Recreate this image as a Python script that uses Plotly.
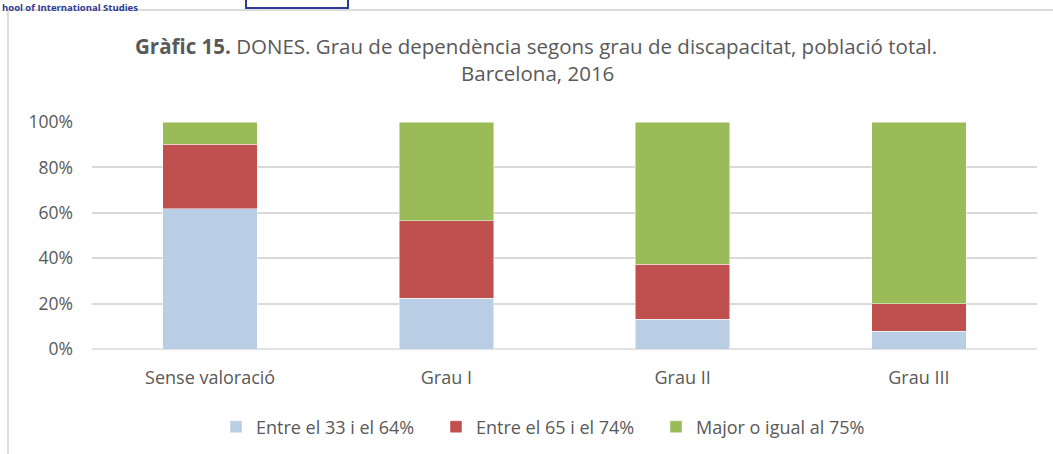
import plotly.graph_objects as go

categories = ["Sense valoració", "Grau I", "Grau II", "Grau III"]
series_names = ["Entre el 33 i el 64%", "Entre el 65 i el 74%", "Major o igual al 75%"]
s33_64 = [61.7, 22.3, 13.2, 7.8]
s65_74 = [28.5, 34.2, 24.2, 12.2]
s75 = [9.8, 43.5, 62.6, 80.0]
colors = ["#B9CDE5", "#C0504D", "#9BBB59"]
y_ticks = [0, 20, 40, 60, 80, 100]
y_tick_labels = [f"{v}%" for v in y_ticks]

W, H = 1053, 454
L, R, T, B = 92, 16, 122, 105
pw, ph = W - L - R, H - T - B

def px(x):
    return (x - L) / pw

def py(y):
    return (H - B - y) / ph

FONT = "Open Sans"
TXT = "#595959"

fig = go.Figure()
for name, vals, col in zip(series_names, [s33_64, s65_74, s75], colors):
    fig.add_trace(go.Bar(
        x=categories, y=vals, name=name,
        marker=dict(color=col, line=dict(color="rgba(255,255,255,0.6)", width=0.8)),
    ))

fig.update_layout(
    width=W, height=H,
    margin=dict(l=L, r=R, t=T, b=B, autoexpand=False),
    barmode="stack", bargap=0.6,
    paper_bgcolor="white", plot_bgcolor="white",
    font=dict(family=FONT, color=TXT, size=18),
    showlegend=True,
    legend=dict(orientation="h", x=px(546), xanchor="center", y=py(427), yanchor="middle",
                font=dict(size=18, color=TXT), traceorder="normal",
                itemwidth=30, entrywidth=175, entrywidthmode="pixels"),
    xaxis=dict(showgrid=False, showline=False, ticks="", tickfont=dict(size=18, color=TXT),
               ticklabelstandoff=16),
    yaxis=dict(range=[0, 100], tickmode="array", tickvals=y_ticks, ticktext=y_tick_labels,
               showgrid=True, gridcolor="#D9D9D9", gridwidth=1.5, zeroline=False, showline=False,
               tickfont=dict(size=17.5, color=TXT), ticklabelstandoff=18),
)

# Base line at 0
fig.add_shape(type="line", xref="paper", yref="paper", x0=0, x1=1, y0=0, y1=0,
              line=dict(color="#D9D9D9", width=1.5), layer="below")

# Title
fig.add_annotation(text="<b>Gràfic 15.</b> DONES. Grau de dependència segons grau de discapacitat, població total.",
                   xref="paper", yref="paper", x=px(536), y=py(46), xanchor="center", yanchor="middle",
                   showarrow=False, font=dict(size=20.5, color=TXT, family=FONT))
fig.add_annotation(text="Barcelona, 2016",
                   xref="paper", yref="paper", x=px(537), y=py(73), xanchor="center", yanchor="middle",
                   showarrow=False, font=dict(size=20.5, color=TXT, family=FONT))

# Chart-area border (partially visible)
fig.add_shape(type="line", xref="paper", yref="paper", x0=px(8), x1=px(8), y0=py(10), y1=py(460),
              line=dict(color="#D0D0D0", width=1.5))
fig.add_shape(type="line", xref="paper", yref="paper", x0=px(8), x1=px(1060), y0=py(10), y1=py(10),
              line=dict(color="#D0D0D0", width=1.5))

# Page header strip above the chart
fig.add_annotation(text="<b>hool of International Studies</b>", xref="paper", yref="paper",
                   x=px(0), y=py(-1), xanchor="left", yanchor="top", showarrow=False,
                   font=dict(size=9.5, color="#2E3A94", family=FONT))
fig.add_shape(type="rect", xref="paper", yref="paper", x0=px(246), x1=px(348), y0=py(-30), y1=py(8),
              line=dict(color="#2E3A94", width=2))

fig.write_html("out.html", config={"displayModeBar": False},
               post_script="document.body.style.margin='0';document.body.style.overflow='hidden';")
